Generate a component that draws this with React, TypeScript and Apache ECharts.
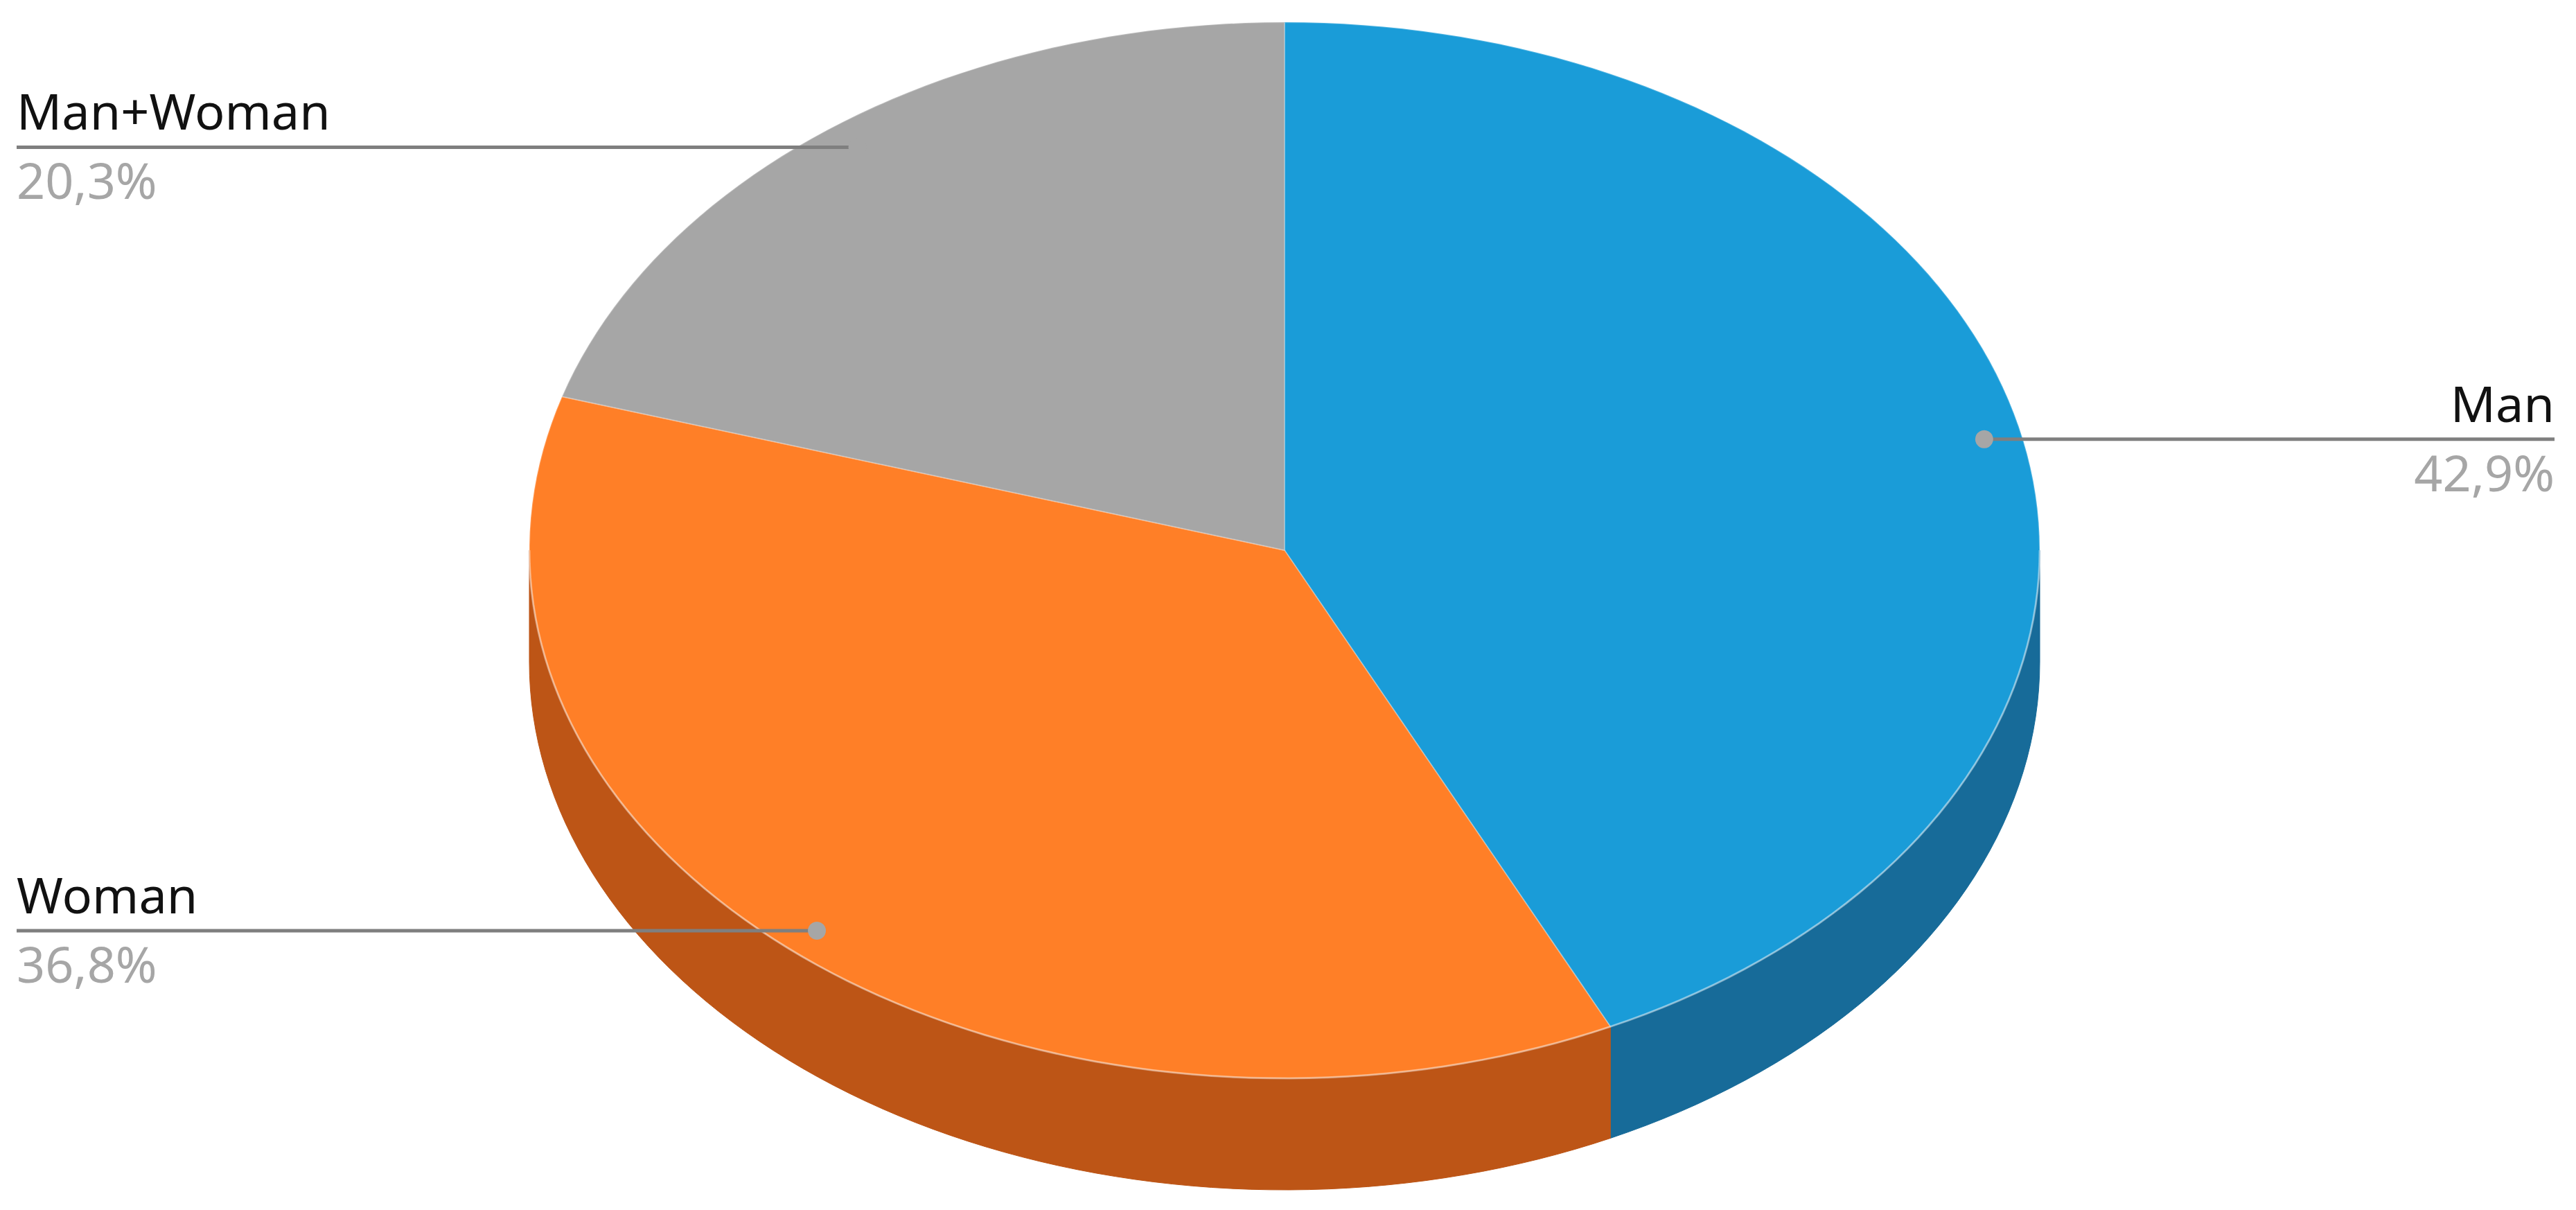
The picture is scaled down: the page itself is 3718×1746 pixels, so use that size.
import React, { useEffect, useRef } from "react";
import * as echarts from "echarts";

const categories = ["Man", "Woman", "Man+Woman"];
const values = [42.9, 36.8, 20.3];
const topColors = ["#1a9cd8", "#ff7f27", "#a6a6a6"];
const sideColors = ["#176b99", "#bd5516", "#7a7a7a"];

const CX = 1854;
const CY = 794;
const RX = 1090;
const RY = 762;
const DEPTH = 161;
const STEPS = 240;

function pt(theta: number, dy = 0, k = 1): number[] {
  return [CX + RX * k * Math.sin(theta), CY - RY * k * Math.cos(theta) + dy];
}

function arc(a1: number, a2: number, dy = 0): number[][] {
  const n = Math.max(2, Math.ceil((STEPS * (a2 - a1)) / (2 * Math.PI)));
  const out: number[][] = [];
  for (let i = 0; i <= n; i++) out.push(pt(a1 + ((a2 - a1) * i) / n, dy));
  return out;
}

function angles(idx: number) {
  const total = values.reduce((s, v) => s + v, 0);
  let cum = 0;
  for (let i = 0; i < idx; i++) cum += values[i];
  const a1 = (cum / total) * Math.PI * 2;
  const a2 = ((cum + values[idx]) / total) * Math.PI * 2;
  return { a1, a2 };
}

export default function App() {
  const ref = useRef<HTMLDivElement>(null);
  useEffect(() => {
    if (!ref.current) return;
    const chart = echarts.init(ref.current, undefined, { renderer: "svg" });
    const data = values.map((v, i) => ({ name: categories[i], value: [i, v] }));

    const pieRender = (params: any, api: any) => {
      const idx = params.dataIndex;
      const { a1, a2 } = angles(idx);
      const children: any[] = [];
      const s = Math.max(a1, Math.PI / 2);
      const e = Math.min(a2, (Math.PI * 3) / 2);
      if (e > s) {
        const top = arc(s, e);
        const bottom = arc(s, e, DEPTH).reverse();
        children.push({
          type: "polygon",
          shape: { points: top.concat(bottom) },
          style: { fill: sideColors[idx], stroke: sideColors[idx], lineWidth: 1 },
          z2: 1,
        });
        children.push({
          type: "polyline",
          shape: { points: top },
          style: { stroke: "rgba(255,255,255,0.35)", lineWidth: 3, fill: null },
          z2: 3,
        });
      }
      const face = [[CX, CY]].concat(arc(a1, a2));
      children.push({
        type: "polygon",
        shape: { points: face },
        style: { fill: topColors[idx], stroke: "rgba(255,255,255,0.25)", lineWidth: 2 },
        z2: 2,
      });
      return { type: "group", children };
    };

    const labelRender = (params: any, api: any) => {
      const idx = params.dataIndex;
      const { a1, a2 } = angles(idx);
      const mid = (a1 + a2) / 2;
      const [dx, dy] = pt(mid, 0, 0.95);
      const right = mid < Math.PI;
      const endX = right ? 3687 : 24;
      const pct = values[idx].toFixed(1).replace(".", ",") + "%";
      return {
        type: "group",
        children: [
          {
            type: "line",
            shape: { x1: dx, y1: dy, x2: endX, y2: dy },
            style: { stroke: "#7f7f7f", lineWidth: 5 },
          },
          {
            type: "circle",
            shape: { cx: dx, cy: dy, r: 13 },
            style: { fill: "#a6a6a6" },
          },
          {
            type: "text",
            style: {
              text: categories[idx],
              x: endX,
              y: dy - 53,
              fill: "#111111",
              fontSize: 72,
              fontFamily: "Noto Sans",
              align: right ? "right" : "left",
              verticalAlign: "middle",
            },
          },
          {
            type: "text",
            style: {
              text: pct,
              x: endX,
              y: dy + 47,
              fill: "#a6a6a6",
              fontSize: 72,
              fontFamily: "Noto Sans",
              align: right ? "right" : "left",
              verticalAlign: "middle",
            },
          },
        ],
      };
    };

    chart.setOption({
      animation: false,
      backgroundColor: "#ffffff",
      series: [
        {
          type: "custom",
          coordinateSystem: "none",
          renderItem: pieRender,
          data,
          z: 1,
        },
        {
          type: "custom",
          coordinateSystem: "none",
          renderItem: labelRender,
          data,
          z: 5,
        },
      ],
    });
    return () => chart.dispose();
  }, []);
  return (
    <div
      ref={ref}
      style={{ position: "absolute", left: 0, top: 0, width: 3718, height: 1746 }}
    />
  );
}
